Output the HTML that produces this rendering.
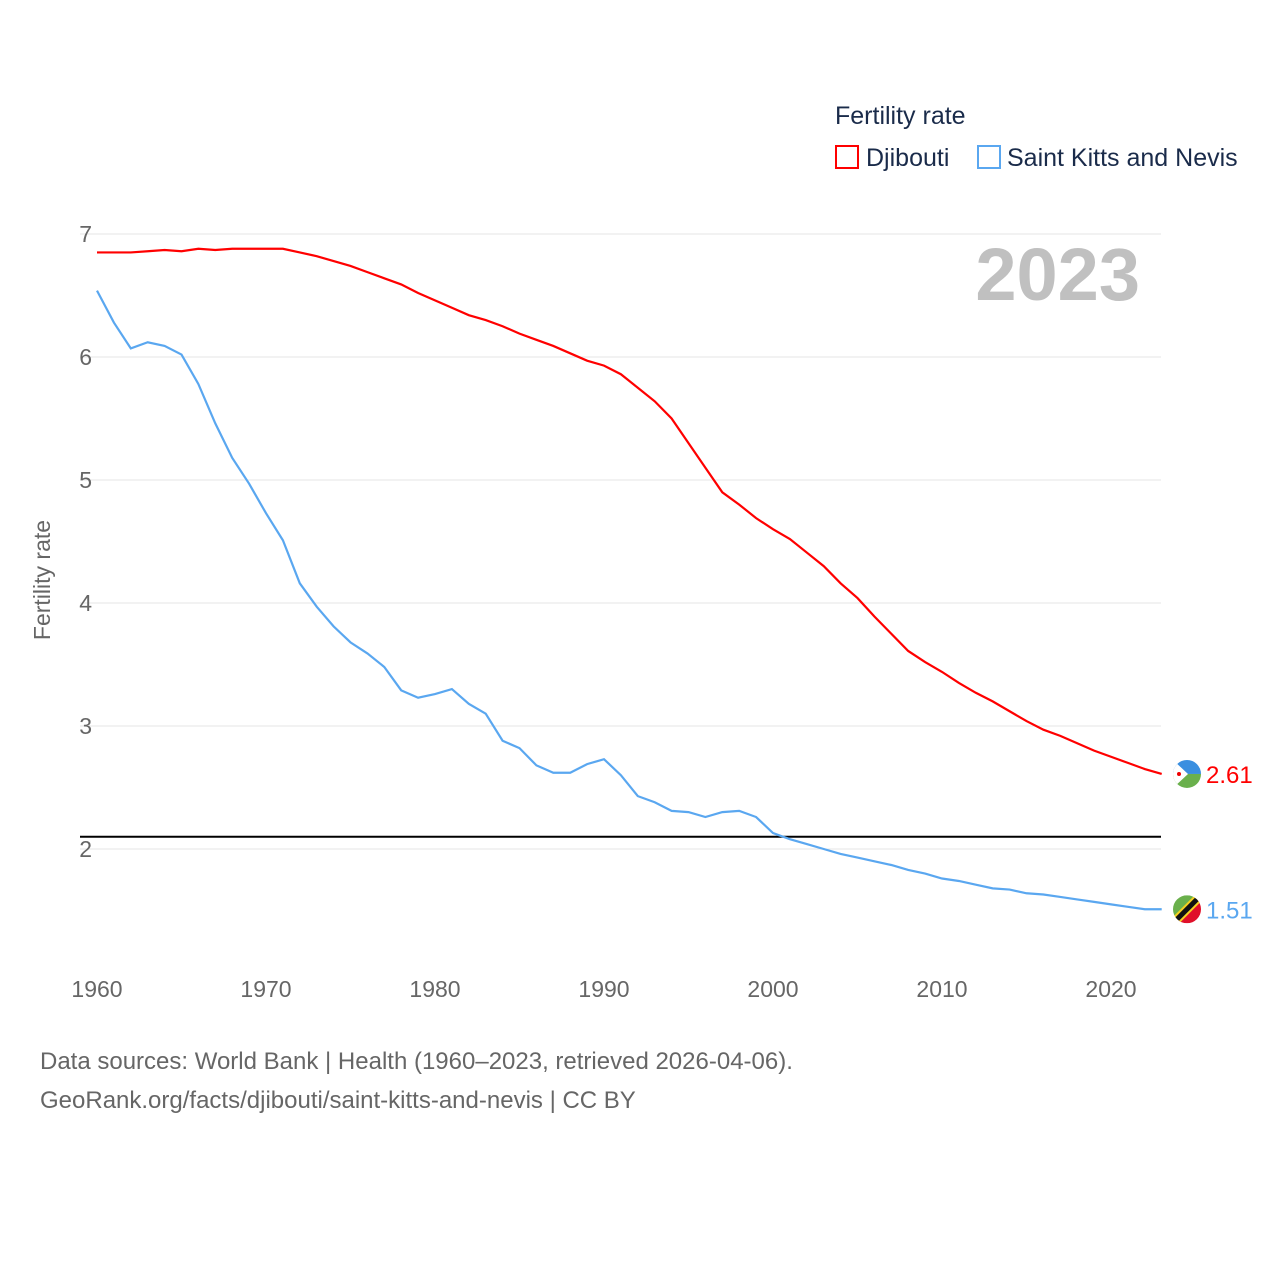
<!DOCTYPE html>
<html><head><meta charset="utf-8"><style>
body{margin:0;background:#fff;font-family:"Liberation Sans",sans-serif}
svg text{font-family:"Liberation Sans",sans-serif}
</style></head><body>
<svg id="chart" width="1280" height="1280" xmlns="http://www.w3.org/2000/svg">
<defs>
<clipPath id="c1"><circle cx="1187" cy="0" r="14"/></clipPath>
</defs>
<text x="835" y="124" font-size="25" fill="#1a2b4a">Fertility rate</text>
<g><rect x="836" y="146" width="22" height="22" fill="none" stroke="#f00" stroke-width="2"/><text x="866" y="166" font-size="25" fill="#1a2b4a">Djibouti</text></g>
<g><rect x="978" y="146" width="22" height="22" fill="none" stroke="#5aa7f0" stroke-width="2"/><text x="1007" y="166" font-size="25" fill="#1a2b4a">Saint Kitts and Nevis</text></g>
<text x="1140" y="300" font-size="74" font-weight="bold" fill="#c0c0c0" text-anchor="end">2023</text>
<text transform="translate(50,580) rotate(-90)" font-size="23" fill="#666" text-anchor="middle">Fertility rate</text>
<g id="grid"></g><g id="series"></g>
<text x="40" y="1069" font-size="24" fill="#666">Data sources: World Bank | Health (1960–2023, retrieved 2026-04-06).</text>
<text x="40" y="1108" font-size="24" fill="#666">GeoRank.org/facts/djibouti/saint-kitts-and-nevis | CC BY</text>
</svg>
<script>
const years=[];for(let y=1960;y<=2023;y++)years.push(y);
const djibouti=[6.85,6.85,6.85,6.86,6.87,6.86,6.88,6.87,6.88,6.88,6.88,6.88,6.85,6.82,6.78,6.74,6.69,6.64,6.59,6.52,6.46,6.40,6.34,6.30,6.25,6.19,6.14,6.09,6.03,5.97,5.93,5.86,5.75,5.64,5.50,5.30,5.10,4.90,4.80,4.69,4.60,4.52,4.41,4.30,4.16,4.04,3.89,3.75,3.61,3.52,3.44,3.35,3.27,3.20,3.12,3.04,2.97,2.92,2.86,2.80,2.75,2.70,2.65,2.61];
const kitts=[6.54,6.28,6.07,6.12,6.09,6.02,5.78,5.46,5.18,4.97,4.73,4.51,4.16,3.97,3.81,3.68,3.59,3.48,3.29,3.23,3.26,3.30,3.18,3.10,2.88,2.82,2.68,2.62,2.62,2.69,2.73,2.60,2.43,2.38,2.31,2.30,2.26,2.30,2.31,2.26,2.13,2.08,2.04,2.00,1.96,1.93,1.90,1.87,1.83,1.80,1.76,1.74,1.71,1.68,1.67,1.64,1.63,1.61,1.59,1.57,1.55,1.53,1.51,1.51];
const yTicks=[2,3,4,5,6,7];
const xTicks=[1960,1970,1980,1990,2000,2010,2020];
const replacement=2.1;
const NS="http://www.w3.org/2000/svg";
const X=y=>97+(y-1960)*16.9, Y=v=>1095-v*123;
function mk(t,a,p){const e=document.createElementNS(NS,t);for(const k in a)e.setAttribute(k,a[k]);p.appendChild(e);return e;}
const g=document.getElementById('grid'),s=document.getElementById('series');
yTicks.forEach(v=>{const l=mk('line',{x1:80,x2:1161,y1:Y(v),y2:Y(v),stroke:'#e6e6e6'},g);


const t=mk('text',{x:92,y:Y(v)+8,'font-size':23,fill:'#666','text-anchor':'end'},g);t.textContent=v;

});
xTicks.forEach(v=>{const t=mk('text',{x:X(v),y:997,'font-size':23,fill:'#666','text-anchor':'middle'},g);t.textContent=v;

});
const rl=mk('line',{x1:80,x2:1161,y1:Y(replacement),y2:Y(replacement),stroke:'#000','stroke-width':2},s);


function flag(n,cx,cy){
  const fg=mk('g',{transform:'translate(0,'+cy+')','clip-path':'url(#c1)'},s);
  
  
  if(n==='djibouti'){
    mk('rect',{x:cx-14,y:-14,width:28,height:14,fill:'#3a8fe0'},fg);
    mk('rect',{x:cx-14,y:0,width:28,height:14,fill:'#6ab04c'},fg);
    mk('polygon',{points:(cx-14)+',-14 '+(cx+1)+',0 '+(cx-14)+',14',fill:'#fff'},fg);
    mk('circle',{cx:cx-8,cy:0,r:2,fill:'#e00'},fg);
  } else {
    mk('polygon',{points:(cx-14)+',-14 '+(cx+14)+',-14 '+(cx-14)+',14',fill:'#6ab04c'},fg);
    mk('polygon',{points:(cx+14)+',-14 '+(cx+14)+',14 '+(cx-14)+',14',fill:'#e0102a'},fg);
    mk('line',{x1:cx-14,y1:14,x2:cx+14,y2:-14,stroke:'#f5d020','stroke-width':9},fg);
    mk('line',{x1:cx-14,y1:14,x2:cx+14,y2:-14,stroke:'#111','stroke-width':5},fg);
  }
}
function line(d,c,n){const p=mk('polyline',{points:d.map((v,i)=>X(years[i])+','+Y(v)).join(' '),fill:'none',stroke:c,'stroke-width':2.2},s);


const last=d[d.length-1],cx=1187,cy=Y(last);
flag(n,cx,cy);
const t=mk('text',{x:1206,y:cy+9,'font-size':24,fill:c},s);t.textContent=last.toFixed(2);

}
line(djibouti,'#f00','djibouti');
line(kitts,'#5aa7f0','saint-kitts');
</script>
</body></html>
